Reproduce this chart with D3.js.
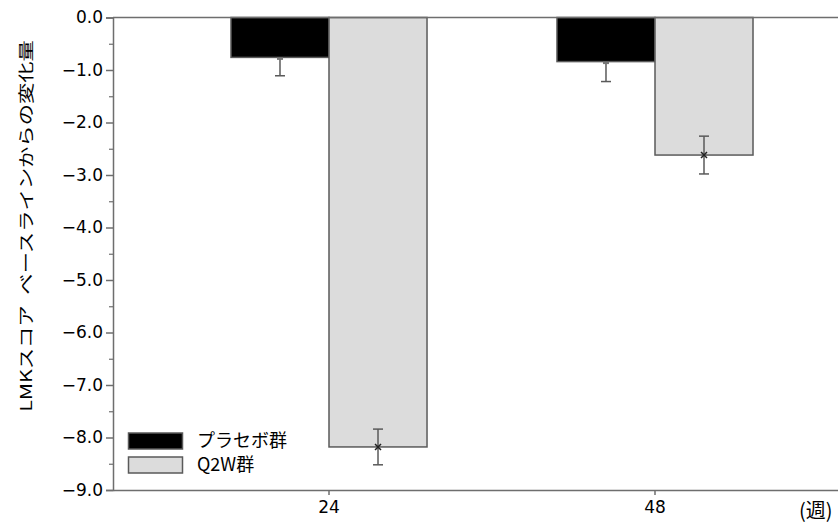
<!DOCTYPE html>
<html>
<head>
<meta charset="utf-8">
<script src="https://cdn.jsdelivr.net/npm/d3@7"></script>
<style>
  body { margin: 0; background: #fff; }
  svg { display: block; }
  text { font-family: "Noto Sans CJK JP", "Noto Sans", sans-serif; fill: #000; }
</style>
</head>
<body>
<svg id="chart" width="838" height="527"></svg>
<script>
// Weeks of assessment and the two treatment groups
const weeks = ["24", "48"];
const series = ["プラセボ群", "Q2W群"];
// Mean change from baseline for each group at each week
const placeboMean = [-0.76, -0.84];
const q2wMean = [-8.18, -2.62];
// Standard error of the mean
const placeboErr = [0.35, 0.38];
const q2wErr = [0.34, 0.36];
const yTicks = [0, -1, -2, -3, -4, -5, -6, -7, -8, -9];
const yMinorTicks = [-0.5, -1.5, -2.5, -3.5, -4.5, -5.5, -6.5, -7.5, -8.5];

const fills = ["#000000", "#dcdcdc"];
const axisColor = "#6e6e6e";
const numFont = "'DejaVu Sans', sans-serif";

const svg = d3.select("#chart");
const plotLeft = 113, plotTop = 17.5, plotBottom = 490;

const y = d3.scaleLinear().domain([0, -9]).range([plotTop, plotBottom]);
const x = d3.scaleBand().domain(weeks).range([plotLeft, 871]).paddingInner(0).paddingOuter(0.1626);
const xs = d3.scaleBand().domain(series).range([0, x.bandwidth()]).paddingInner(0).paddingOuter(0.663);

const data = weeks.flatMap((w, i) => [
  { week: w, s: series[0], v: placeboMean[i], e: placeboErr[i], k: 0 },
  { week: w, s: series[1], v: q2wMean[i], e: q2wErr[i], k: 1 }
]);

// Bars
svg.append("g").selectAll("rect").data(data).join("rect")
  .attr("x", d => x(d.week) + xs(d.s))
  .attr("y", y(0))
  .attr("width", xs.bandwidth())
  .attr("height", d => y(d.v) - y(0))
  .attr("fill", d => fills[d.k])
  .attr("stroke", "#5a5a5a")
  .attr("stroke-width", 1.5);

// Error bars (placebo upper half lies inside the black bar)
const eb = svg.append("g").attr("stroke", "#5a5a5a").attr("stroke-width", 1.5);
data.forEach(d => {
  const cx = x(d.week) + xs(d.s) + xs.bandwidth() / 2;
  const hi = d.v + d.e, lo = d.v - d.e;
  const yTop = d.k === 0 ? y(d.v) : y(hi);
  eb.append("line").attr("x1", cx).attr("x2", cx).attr("y1", yTop).attr("y2", y(lo));
  if (d.k === 1) {
    eb.append("line").attr("x1", cx - 5).attr("x2", cx + 5).attr("y1", y(hi)).attr("y2", y(hi));
    const m = 3, cy = y(d.v);
    svg.append("path")
      .attr("d", `M${cx - m},${cy - m}L${cx + m},${cy + m}M${cx - m},${cy + m}L${cx + m},${cy - m}`)
      .attr("stroke", "#222").attr("stroke-width", 1.5);
  } else {
    eb.append("rect").attr("x", cx - 3).attr("y", y(d.v)).attr("width", 6).attr("height", 2.5)
      .attr("fill", "#777").attr("stroke", "none");
  }
  eb.append("line").attr("x1", cx - 5).attr("x2", cx + 5).attr("y1", y(lo)).attr("y2", y(lo));
});

// Zero reference line
svg.append("line")
  .attr("x1", plotLeft).attr("x2", 838).attr("y1", y(0)).attr("y2", y(0))
  .attr("stroke", axisColor).attr("stroke-width", 1.5);

// Y axis
const yAxis = svg.append("g").attr("transform", `translate(${plotLeft},0)`)
  .call(d3.axisLeft(y).tickValues(yTicks).tickSize(7).tickPadding(3)
    .tickFormat(d => (d < 0 ? "\u2212" : "") + Math.abs(d).toFixed(1)));
yAxis.select(".domain").attr("stroke", axisColor).attr("stroke-width", 1.5);
yAxis.selectAll(".tick line").attr("stroke", axisColor).attr("stroke-width", 1.5);
yAxis.selectAll(".tick text").style("font-size", "17px")
  .style("font-family", numFont).attr("fill", "#000");
svg.append("g").attr("transform", `translate(${plotLeft},0)`)
  .call(d3.axisLeft(y).tickValues(yMinorTicks).tickSize(4).tickFormat(""))
  .call(g => g.select(".domain").remove())
  .selectAll(".tick line").attr("stroke", axisColor).attr("stroke-width", 1.2);

// X axis
const xAxis = svg.append("g").attr("transform", `translate(0,${plotBottom})`)
  .call(d3.axisBottom(x).tickSize(5).tickSizeOuter(0).tickPadding(6));
xAxis.select(".domain").attr("stroke", axisColor).attr("stroke-width", 1.5);
xAxis.selectAll(".tick line").attr("stroke", axisColor).attr("stroke-width", 1.5);
xAxis.selectAll(".tick text").style("font-size", "17px")
  .style("font-family", numFont).attr("fill", "#000");

svg.append("text").attr("x", 799).attr("y", 518)
  .style("font-size", "20px").text("(週)");

// Y axis title, stretched along its length
const title = svg.append("text")
  .attr("text-anchor", "middle")
  .attr("dy", "0.35em")
  .style("font-size", "16px")
  .text("LMKスコア\u2002ベースラインからの変化量");
const titleLen = title.node().getComputedTextLength();
title.attr("transform", `translate(26,226) rotate(-90) scale(${372 / titleLen},1)`);

// Legend
const lg = svg.append("g");
series.forEach((s, i) => {
  const yy = 433 + i * 24;
  lg.append("rect").attr("x", 128.5).attr("y", yy).attr("width", 54).attr("height", 16)
    .attr("fill", fills[i]).attr("stroke", "#5a5a5a").attr("stroke-width", 1.5);
  lg.append("text").attr("x", 197).attr("y", yy + 8).attr("dy", "0.36em")
    .style("font-size", "18px").text(s);
});
</script>
</body>
</html>
